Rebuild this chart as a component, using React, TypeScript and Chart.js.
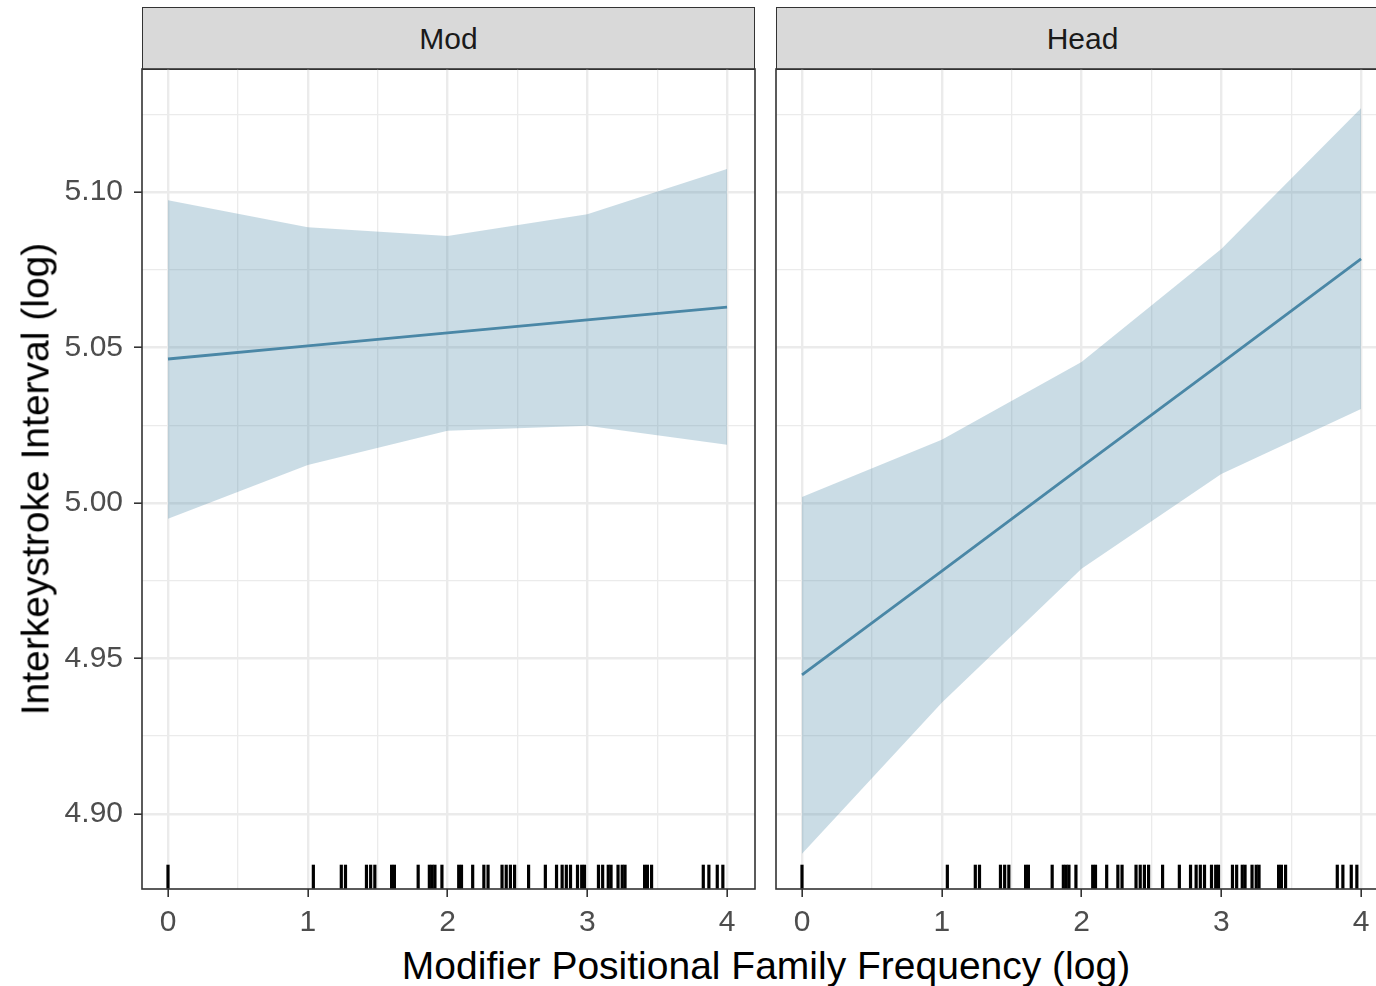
import React, { useEffect, useRef } from "react";
import { Chart, registerables } from "chart.js";

Chart.register(...registerables);

// ---------- data ----------
const panelNames = ["Mod", "Head"];
const fitX = [0, 1, 2, 3, 4];

const modFit = [5.0463, 5.0505, 5.0547, 5.0589, 5.063];
const modUpper = [5.0974, 5.0887, 5.0859, 5.0929, 5.1074];
const modLower = [4.9949, 5.0122, 5.0232, 5.0248, 5.0187];

const headFit = [4.9447, 4.9781, 5.0116, 5.045, 5.0785];
const headUpper = [5.0019, 5.0203, 5.0453, 5.0817, 5.127];
const headLower = [4.8871, 4.9357, 4.9788, 5.0093, 5.0302];

const rugX = [
  0, 1.04, 1.24, 1.27, 1.42, 1.45, 1.48, 1.6, 1.62, 1.79, 1.87, 1.89, 1.91,
  1.96, 2.08, 2.1, 2.18, 2.26, 2.29, 2.39, 2.42, 2.45, 2.48, 2.58, 2.7, 2.78,
  2.82, 2.85, 2.88, 2.93, 2.96, 2.98, 3.08, 3.11, 3.15, 3.17, 3.22, 3.25,
  3.27, 3.41, 3.43, 3.46, 3.83, 3.87, 3.93, 3.97,
];

const xTicks = [0, 0.5, 1, 1.5, 2, 2.5, 3, 3.5, 4];
const xTickLabels = ["0", "", "1", "", "2", "", "3", "", "4"];
const yTicks = [4.9, 4.925, 4.95, 4.975, 5.0, 5.025, 5.05, 5.075, 5.1, 5.125];
const yTickLabels = ["4.90", "", "4.95", "", "5.00", "", "5.05", "", "5.10", ""];

const X_MIN = -0.186;
const X_MAX = 4.2;
const Y_MIN = 4.8758;
const Y_MAX = 5.1396;

const xTitle = "Modifier Positional Family Frequency (log)";
const yTitle = "Interkeystroke Interval (log)";

// ---------- styling ----------
const LINE = "rgb(74,135,166)";
const RIBBON = "rgba(74,135,166,0.29)";
const GRID = "#ebebeb";
const FONT = "'Liberation Sans', Arial, Helvetica, sans-serif";

const borderPlugin = {
  id: "panelBorder",
  afterDraw(chart: any) {
    const { ctx, chartArea } = chart;
    const { left, top, right, bottom } = chartArea;
    ctx.save();
    ctx.strokeStyle = "#333333";
    ctx.lineWidth = 1.6;
    ctx.strokeRect(left, top, right - left, bottom - top);
    ctx.restore();
  },
};

function Panel({
  fit,
  upper,
  lower,
  showY,
}: {
  fit: number[];
  upper: number[];
  lower: number[];
  showY: boolean;
}) {
  const ref = useRef<HTMLCanvasElement | null>(null);
  useEffect(() => {
    if (!ref.current) return;
    const rugY = Y_MIN + 0.015 * (Y_MAX - Y_MIN);
    const isMajorX = (v: number) => Math.abs(v - Math.round(v)) < 1e-6;
    const isMajorY = (v: number) =>
      Math.abs(v * 20 - Math.round(v * 20)) < 1e-6;
    const chart = new Chart(ref.current, {
      type: "scatter",
      data: {
        datasets: [
          {
            data: fitX.map((x, i) => ({ x, y: upper[i] })),
            showLine: true,
            borderWidth: 0,
            borderColor: "rgba(0,0,0,0)",
            backgroundColor: RIBBON,
            pointRadius: 0,
            fill: "+1",
            order: 3,
          } as any,
          {
            data: fitX.map((x, i) => ({ x, y: lower[i] })),
            showLine: true,
            borderWidth: 0,
            borderColor: "rgba(0,0,0,0)",
            pointRadius: 0,
            fill: false,
            order: 3,
          },
          {
            data: fitX.map((x, i) => ({ x, y: fit[i] })),
            showLine: true,
            borderWidth: 2.8,
            borderColor: LINE,
            pointRadius: 0,
            fill: false,
            order: 2,
          },
          {
            data: rugX.map((x) => ({ x, y: rugY })),
            showLine: false,
            pointStyle: "line",
            rotation: 90,
            pointRadius: 12,
            borderWidth: 3.2,
            borderColor: "#000000",
            backgroundColor: "#000000",
            order: 1,
          } as any,
        ],
      },
      options: {
        animation: false,
        responsive: false,
        maintainAspectRatio: false,
        events: [],
        layout: {
          autoPadding: false,
          padding: showY
            ? { left: 0, right: 7, top: 9, bottom: 0 }
            : { left: 6, right: 7, top: 9, bottom: 0 },
        },
        plugins: {
          legend: { display: false },
          tooltip: { enabled: false },
          title: { display: false },
        },
        scales: {
          x: {
            type: "linear",
            min: X_MIN,
            max: X_MAX,
            afterBuildTicks: (s: any) => {
              s.ticks = xTicks.map((v) => ({ value: v }));
            },
            afterFit: (s: any) => {
              s.height = 51;
              s.paddingLeft = 0;
              s.paddingRight = 0;
              s.paddingTop = 0;
              s.paddingBottom = 0;
            },
            border: { display: false },
            grid: {
              color: GRID,
              lineWidth: (c: any) =>
                c.tick && isMajorX(c.tick.value) ? 2.4 : 1.3,
              tickColor: (c: any) =>
                c.tick && isMajorX(c.tick.value) ? "#333333" : "rgba(0,0,0,0)",
              tickLength: 8,
              tickWidth: 1.6,
              drawTicks: true,
            },
            ticks: {
              autoSkip: false,
              maxRotation: 0,
              minRotation: 0,
              padding: 8,
              color: "#4d4d4d",
              font: { family: FONT, size: 30 },
              callback: (v: any, i: number) => xTickLabels[i] ?? "",
            },
          },
          y: {
            type: "linear",
            min: Y_MIN,
            max: Y_MAX,
            afterBuildTicks: (s: any) => {
              s.ticks = yTicks.map((v) => ({ value: v }));
            },
            afterFit: (s: any) => {
              s.width = showY ? 142 : 0;
              s.paddingLeft = 0;
              s.paddingRight = 0;
              s.paddingTop = 0;
              s.paddingBottom = 0;
            },
            border: { display: false },
            grid: {
              color: GRID,
              lineWidth: (c: any) =>
                c.tick && isMajorY(c.tick.value) ? 2.4 : 1.3,
              tickColor: (c: any) =>
                showY && c.tick && isMajorY(c.tick.value)
                  ? "#333333"
                  : "rgba(0,0,0,0)",
              tickLength: showY ? 8 : 0,
              tickWidth: 1.6,
              drawTicks: showY,
            },
            ticks: {
              display: showY,
              autoSkip: false,
              padding: 11,
              color: "#4d4d4d",
              font: { family: FONT, size: 30 },
              callback: (v: any, i: number) => yTickLabels[i] ?? "",
            },
          },
        },
      },
      plugins: [borderPlugin],
    });
    return () => chart.destroy();
  }, [fit, upper, lower, showY]);
  return <canvas ref={ref} width={showY ? 762 : 626} height={880} />;
}

const stripStyle = (left: number): React.CSSProperties => ({
  position: "absolute",
  left,
  top: 7,
  width: 613,
  height: 63,
  boxSizing: "border-box",
  border: "1.6px solid #333333",
  background: "#d9d9d9",
  display: "flex",
  alignItems: "center",
  justifyContent: "center",
  fontFamily: FONT,
  fontSize: 30,
  color: "#1a1a1a",
});

export default function App() {
  return (
    <div
      style={{
        position: "fixed",
        left: 0,
        top: 0,
        width: 1376,
        height: 986,
        overflow: "hidden",
        background: "#ffffff",
      }}
    >
      <div style={stripStyle(142)}>{panelNames[0]}</div>
      <div style={stripStyle(776)}>{panelNames[1]}</div>
      <div style={{ position: "absolute", left: 0, top: 60 }}>
        <Panel fit={modFit} upper={modUpper} lower={modLower} showY={true} />
      </div>
      <div style={{ position: "absolute", left: 770, top: 60 }}>
        <Panel fit={headFit} upper={headUpper} lower={headLower} showY={false} />
      </div>
      <div
        style={{
          position: "absolute",
          left: 35,
          top: 479,
          transform: "translate(-50%, -50%) rotate(-90deg)",
          whiteSpace: "nowrap",
          fontFamily: FONT,
          fontSize: 39,
          lineHeight: 1,
          color: "#000000",
        }}
      >
        {yTitle}
      </div>
      <div
        style={{
          position: "absolute",
          left: 766,
          top: 965,
          transform: "translate(-50%, -50%)",
          whiteSpace: "nowrap",
          fontFamily: FONT,
          fontSize: 39,
          lineHeight: 1,
          color: "#000000",
        }}
      >
        {xTitle}
      </div>
    </div>
  );
}
